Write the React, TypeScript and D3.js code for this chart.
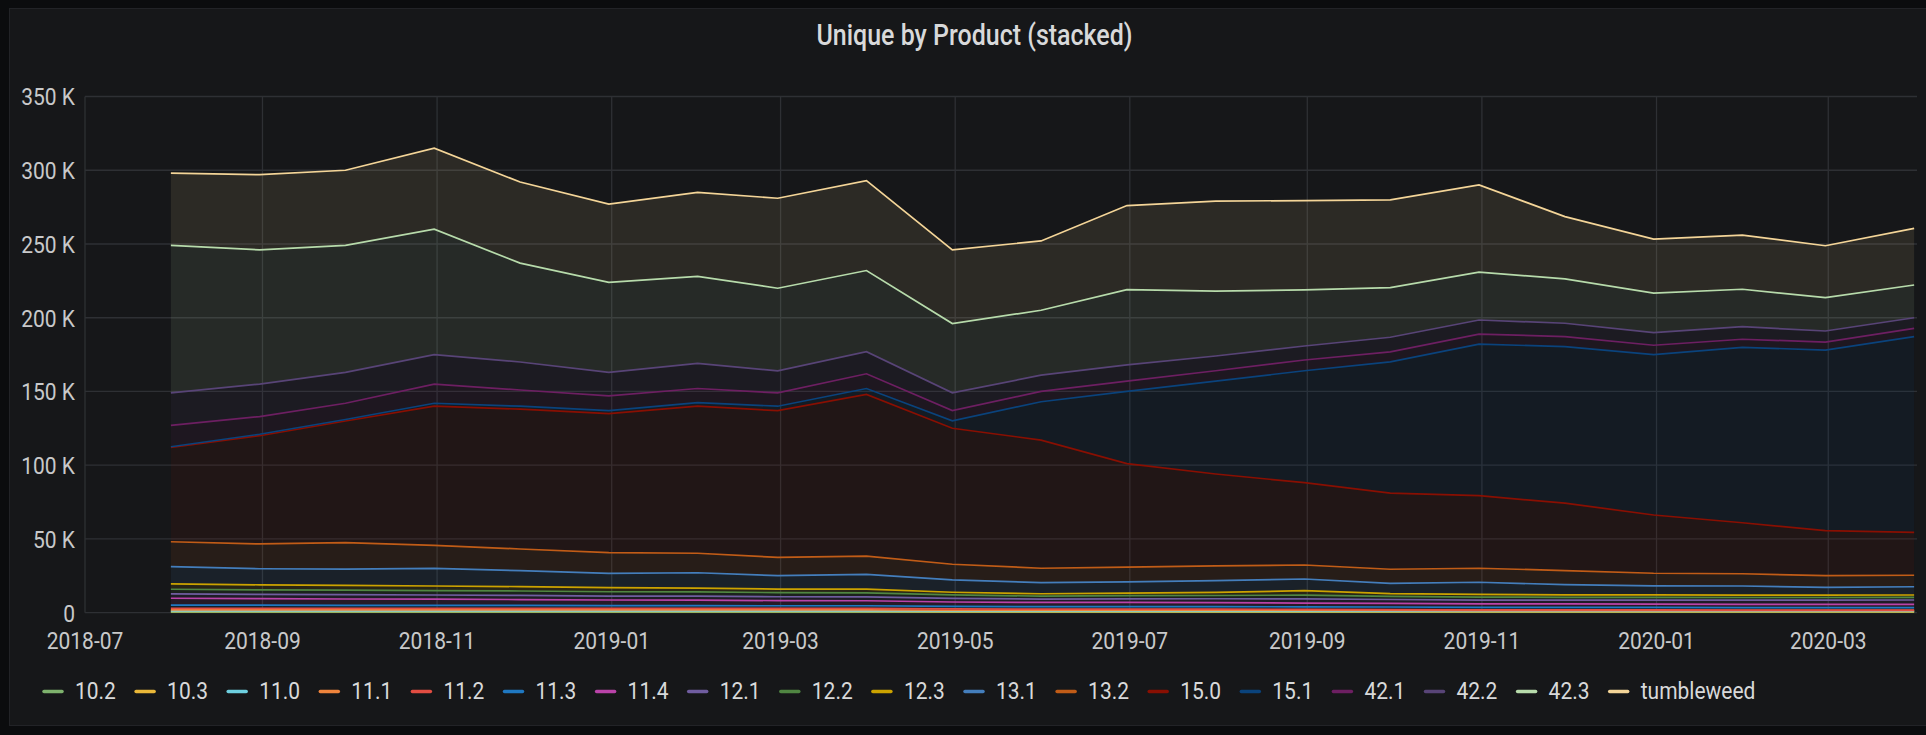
import React from 'react';
import * as d3 from 'd3';

// month-end samples, values in thousands
const dates = [
  '2018-07-31', '2018-08-31', '2018-09-30', '2018-10-31', '2018-11-30', '2018-12-31',
  '2019-01-31', '2019-02-28', '2019-03-31', '2019-04-30', '2019-05-31', '2019-06-30',
  '2019-07-31', '2019-08-31', '2019-09-30', '2019-10-31', '2019-11-30', '2019-12-31',
  '2020-01-31', '2020-02-29', '2020-03-31',
];

const seriesNames = ['10.2', '10.3', '11.0', '11.1', '11.2', '11.3', '11.4', '12.1', '12.2', '12.3', '13.1', '13.2', '15.0', '15.1', '42.1', '42.2', '42.3', 'tumbleweed'];
const seriesColors = ['#7EB26D', '#EAB839', '#6ED0E0', '#EF843C', '#E24D42', '#1F78C1', '#BA43A9', '#705DA0', '#508642', '#CCA300', '#447EBC', '#C15C17', '#890F02', '#0A437C', '#6D1F62', '#584477', '#B7DBAB', '#F4D598'];

const v10_2 = [0.4, 0.4, 0.4, 0.4, 0.4, 0.4, 0.4, 0.4, 0.4, 0.4, 0.4, 0.4, 0.4, 0.4, 0.4, 0.4, 0.4, 0.4, 0.35, 0.35, 0.35];
const v10_3 = [0.4, 0.4, 0.4, 0.4, 0.4, 0.4, 0.4, 0.4, 0.4, 0.35, 0.35, 0.35, 0.35, 0.35, 0.35, 0.35, 0.35, 0.35, 0.35, 0.35, 0.35];
const v11_0 = [0.5, 0.5, 0.5, 0.5, 0.5, 0.5, 0.5, 0.5, 0.5, 0.4, 0.4, 0.4, 0.4, 0.4, 0.3, 0.3, 0.3, 0.3, 0.3, 0.3, 0.3];
const v11_1 = [0.6, 0.6, 0.6, 0.6, 0.6, 0.6, 0.6, 0.6, 0.6, 0.5, 0.5, 0.5, 0.5, 0.5, 0.5, 0.4, 0.4, 0.4, 0.4, 0.4, 0.4];
const v11_2 = [1.1, 1.1, 1.1, 1.1, 1.1, 1.0, 1.0, 1.0, 1.0, 0.9, 0.8, 0.8, 0.8, 0.6, 0.6, 0.5, 0.5, 0.5, 0.4, 0.4, 0.4];
const v11_3 = [2.2, 2.1, 2.0, 2.0, 1.9, 1.9, 1.9, 1.8, 1.8, 1.7, 1.7, 1.7, 1.7, 1.7, 1.7, 1.6, 1.6, 1.6, 1.6, 1.6, 1.6];
const v11_4 = [4.6, 4.4, 4.3, 4.2, 4.0, 3.8, 3.7, 3.5, 3.4, 3.0, 2.8, 2.8, 2.7, 2.6, 2.5, 2.4, 2.4, 2.3, 2.3, 2.3, 2.3];
const v12_1 = [2.9, 2.9, 2.9, 2.8, 2.8, 2.7, 2.7, 2.6, 2.6, 2.4, 2.3, 2.4, 2.6, 2.8, 2.6, 2.6, 2.6, 2.7, 2.8, 2.8, 2.9];
const v12_2 = [3.2, 3.1, 3.1, 3.0, 3.0, 2.9, 2.9, 2.8, 2.8, 2.4, 2.0, 2.2, 2.2, 2.6, 2.1, 2.0, 1.9, 1.9, 1.8, 1.8, 1.8];
const v12_3 = [3.6, 3.4, 3.2, 3.1, 3.0, 2.8, 2.6, 2.4, 2.5, 1.8, 1.6, 1.7, 2.1, 3.0, 1.9, 1.9, 1.7, 1.6, 1.6, 1.6, 1.6];
const v13_1 = [11.7, 10.9, 11.1, 12.0, 10.8, 9.7, 10.4, 9.1, 10.0, 8.4, 7.5, 7.6, 8.0, 7.9, 7.0, 8.2, 6.9, 6.1, 6.2, 5.3, 5.6];
const v13_2 = [16.9, 16.8, 17.9, 15.6, 14.7, 14.0, 13.2, 12.4, 12.4, 10.6, 9.8, 10.0, 10.0, 9.5, 9.5, 9.5, 9.5, 8.6, 8.3, 7.9, 7.8];
const v15_0 = [63.9, 73.4, 82.5, 94.3, 94.8, 94.3, 99.7, 99.5, 109.6, 92.2, 86.9, 70.2, 62.3, 55.8, 51.6, 49.2, 45.7, 39.5, 34.6, 30.5, 29.1];
const v15_1 = [0.5, 1.0, 1.0, 2.0, 2.0, 2.0, 2.5, 3.0, 4.0, 5.0, 26.0, 49.0, 63.0, 75.9, 89.0, 102.7, 106.2, 108.7, 118.9, 122.5, 132.7];
const v42_1 = [14.5, 12, 11, 13, 11, 10, 9.5, 9, 10, 7, 7, 7, 7, 7.3, 6.8, 6.8, 6.8, 6.4, 5.5, 5.4, 5.6];
const v42_2 = [22, 22, 21, 20, 19, 16, 17, 15, 15, 12, 11, 11, 10, 9.5, 9.9, 9.6, 9.0, 8.5, 8.5, 7.5, 7.2];
const v42_3 = [100, 91, 86, 85, 67, 61, 59, 56, 55, 47, 44, 51, 44, 38, 33.7, 32.4, 30.1, 26.8, 25.4, 22.6, 22.2];
const vTumbleweed = [49, 51, 51, 55, 55, 53, 57, 61, 61, 50, 47, 57, 61, 60.6, 59.4, 59.2, 42.2, 36.6, 36.7, 35.2, 38.4];

const seriesValues = [v10_2, v10_3, v11_0, v11_1, v11_2, v11_3, v11_4, v12_1, v12_2, v12_3, v13_1, v13_2, v15_0, v15_1, v42_1, v42_2, v42_3, vTumbleweed];

const xTickLabels = ['2018-07', '2018-09', '2018-11', '2019-01', '2019-03', '2019-05', '2019-07', '2019-09', '2019-11', '2020-01', '2020-03'];
const yTicks = [0, 50, 100, 150, 200, 250, 300, 350];
const yTickLabels = ['0', '50 K', '100 K', '150 K', '200 K', '250 K', '300 K', '350 K'];

const W = 1926;
const H = 735;
const SY = 1.18; // screenshot text is stretched vertically
const FONT = 'Roboto, sans-serif';

const parseDay = d3.timeParse('%Y-%m-%d');
const parseMonth = d3.timeParse('%Y-%m');

const T = ({ x, y, size, anchor = 'start', fill = '#c8c9ca', weight = 400, children }: any) => (
  <text
    transform={`translate(${x},${y}) scale(1,${SY})`}
    fontSize={size}
    textAnchor={anchor}
    fill={fill}
    fontWeight={weight}
    fontFamily={FONT}
  >
    {children}
  </text>
);

const App = () => {
  const left = 85, right = 1917, top = 96.5, bottom = 612.7;

  const x = d3.scaleTime()
    .domain([parseMonth('2018-07')!, parseMonth('2020-04')!])
    .range([left, right]);
  const y = d3.scaleLinear().domain([0, 350]).range([bottom, top]);

  const rows = dates.map((d, i) => {
    const r: any = { date: parseDay(d) };
    seriesNames.forEach((k, j) => { r[k] = seriesValues[j][i]; });
    return r;
  });
  const stacked = d3.stack().keys(seriesNames)(rows);

  const area = d3.area<any>()
    .x(d => x(d.data.date))
    .y0(d => y(d[0]))
    .y1(d => y(d[1]));
  const line = d3.line<any>()
    .x(d => x(d.data.date))
    .y(d => y(d[1]));

  const xTicks = xTickLabels.map(s => parseMonth(s)!);

  return (
    <svg width={W} height={H} style={{ position: 'absolute', left: 0, top: 0, display: 'block' }}>
      <rect x={0} y={0} width={W} height={H} fill="#0b0c0e" />
      <rect x={9.5} y={8.5} width={W - 9} height={717} fill="#161719" stroke="#222327" />

      <T x={974.5} y={45} size={25} anchor="middle" fill="#d8d9da" weight={500}>
        Unique by Product (stacked)
      </T>

      {/* grid */}
      <g stroke="#2e3034" strokeWidth={1.3}>
        {yTicks.map(t => (
          <line key={'h' + t} x1={left} x2={right} y1={y(t)} y2={y(t)} />
        ))}
        {xTicks.map((t, i) => (
          <line key={'v' + i} x1={x(t)} x2={x(t)} y1={top} y2={bottom} />
        ))}
      </g>

      {/* stacked areas */}
      {stacked.map((s, i) => (
        <path key={'a' + i} d={area(s as any) || ''} fill={seriesColors[i]} fillOpacity={0.1} />
      ))}
      {stacked.map((s, i) => (
        <path key={'l' + i} d={line(s as any) || ''} fill="none" stroke={seriesColors[i]} strokeWidth={1.7} />
      ))}

      {/* y axis */}
      {yTicks.map((t, i) => (
        <T key={'yl' + t} x={75} y={y(t) + 8.8} size={21} anchor="end">{yTickLabels[i]}</T>
      ))}

      {/* x axis */}
      {xTicks.map((t, i) => (
        <T key={'xl' + i} x={x(t)} y={649} size={21} anchor="middle">{xTickLabels[i]}</T>
      ))}

      {/* legend */}
      {seriesNames.map((name, i) => {
        const lx = 44 + i * 92.1;
        return (
          <g key={'lg' + name}>
            <line x1={lx} x2={lx + 18} y1={691.5} y2={691.5} stroke={seriesColors[i]} strokeWidth={3.5} strokeLinecap="round" />
            <T x={lx + 31} y={699} size={21} fill="#d8d9da">{name}</T>
          </g>
        );
      })}
    </svg>
  );
};

export default App;
